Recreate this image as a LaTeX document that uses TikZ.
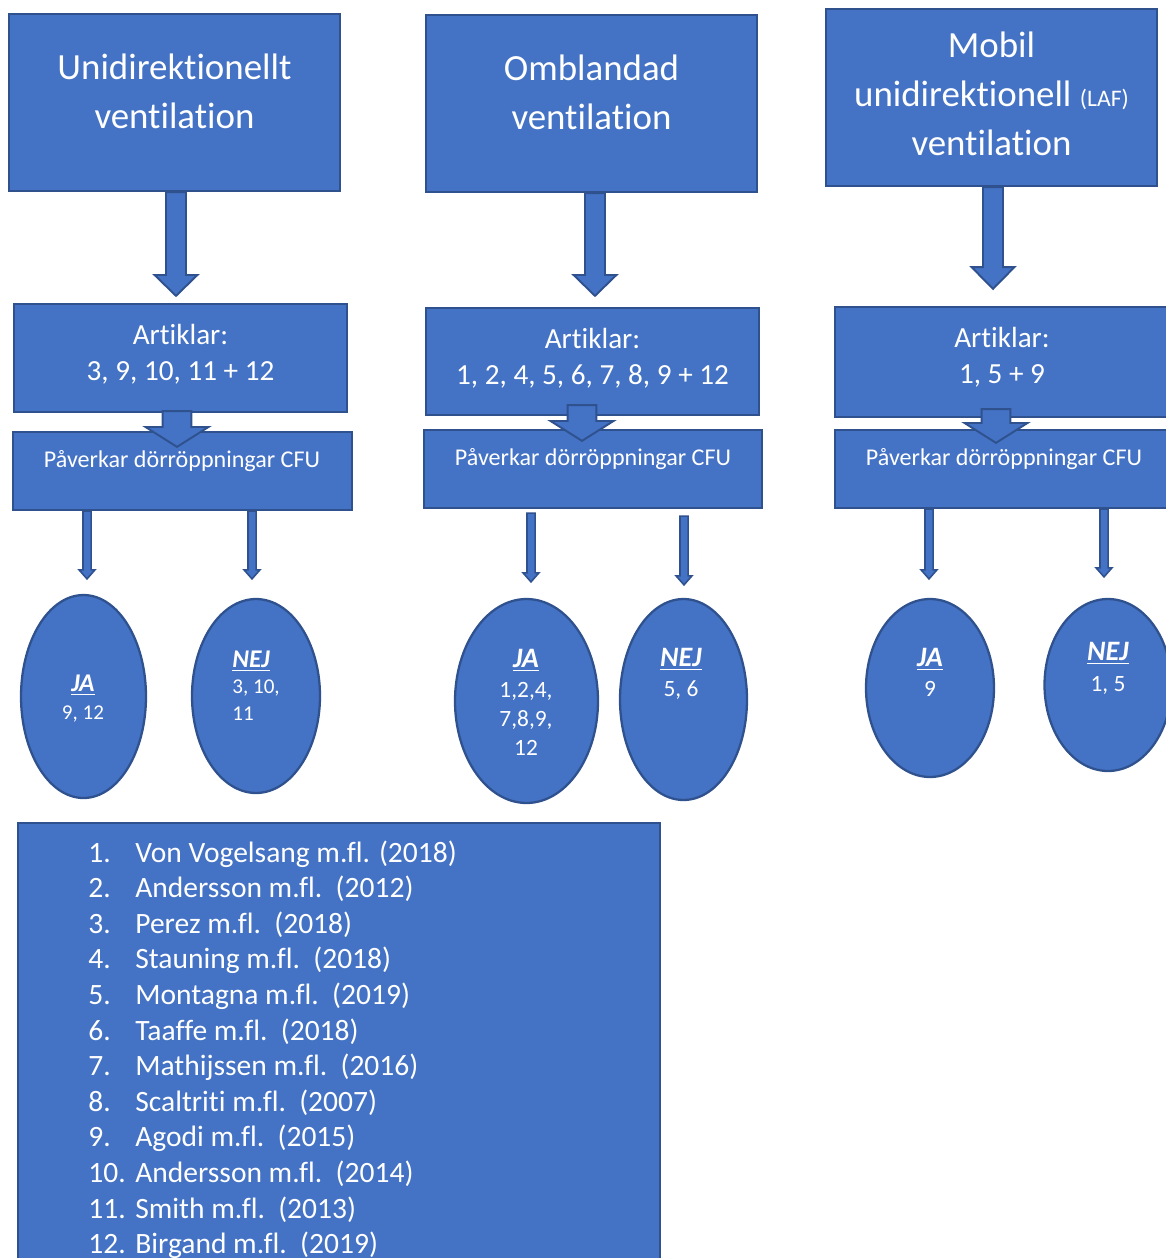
\documentclass[tikz,border=0pt]{standalone}
\usepackage{fontspec}
\setmainfont{Carlito}[Ligatures=NoCommon]
\usetikzlibrary{calc,shapes.geometric}
\definecolor{boxblue}{HTML}{4472C4}
\definecolor{edgeblue}{HTML}{2F528F}
\newcommand{\hdfont}{\fontsize{21}{28}\selectfont}
\newcommand{\artfont}{\fontsize{16.6}{20.5}\selectfont}
\newcommand{\pfont}{\fontsize{13.7}{16}\selectfont}
\newcommand{\reffont}{\fontsize{16.8}{20}\selectfont}
\newcommand{\hdr}[2]{{\fontsize{#1}{#1}\selectfont\underline{\textbf{\textit{#2}}}}}
% block arrow: [style] from, to, half shaft, half head, head length
\newcommand{\blockarr}[6][]{%
  \path[arr,#1] let \p1=(#2), \p2=(#3) in
    (\x1-#4,\y1) -- (\x1-#4,\y2+#6) -- (\x1-#5,\y2+#6) -- (\x1,\y2)
    -- (\x1+#5,\y2+#6) -- (\x1+#4,\y2+#6) -- (\x1+#4,\y1) -- cycle;}
\tikzset{
  box/.style={draw=edgeblue,fill=boxblue,line width=1.3pt,inner sep=0pt},
  oval/.style={ellipse,draw=edgeblue,fill=boxblue,line width=1.3pt,inner sep=0pt},
  txt/.style={text=white,align=center,inner sep=0pt},
  arr/.style={draw=edgeblue,fill=boxblue,line width=1.1pt,line join=miter},
  thin/.style={line width=0.9pt}
}
\begin{document}
\begin{tikzpicture}[x=0.02cm,y=-0.02cm]
\useasboundingbox (0,0) rectangle (1166,1258);
% ventilation types
\node[box,minimum width=6.62cm,minimum height=3.54cm] (t1) at (174.5,102.5) {};
\node[box,minimum width=6.62cm,minimum height=3.54cm] (t2) at (591.5,103.5) {};
\node[box,minimum width=6.62cm,minimum height=3.54cm] (t3) at (991.5,97.5) {};
\node[txt,font=\hdfont] (t1l) at (174.5,91) {Unidirektionellt\\ventilation};
\node[txt,font=\hdfont] (t2l) at (591.5,92) {Omblandad\\ventilation};
\node[txt,font=\hdfont] (t3l) at (991.5,94) {Mobil\\unidirektionell {\fontsize{13.5}{14}\selectfont (LAF)}\\ventilation};

% articles
\node[box,minimum width=6.66cm,minimum height=2.16cm] (a1) at (180.5,358) {};
\node[box,minimum width=6.66cm,minimum height=2.14cm] (a2) at (592.5,361.5) {};
\node[box,minimum width=6.66cm,minimum height=2.2cm] (a3) at (1001.5,362) {};
\node[txt,font=\artfont] (a1l) at (180.5,354) {Artiklar:\\3, 9, 10, 11 + 12};
\node[txt,font=\artfont] (a2l) at (592.5,358) {Artiklar:\\1, 2, 4, 5, 6, 7, 8, 9 + 12};
\node[txt,font=\artfont] (a3l) at (1002,357) {Artiklar:\\1, 5 + 9};

\blockarr{$(t1.south)+(1.5,0)$}{$(a1.north)+(0,-7)$}{5.7pt}{12.2pt}{11.9pt}
\blockarr{$(t2.south)+(3.5,0)$}{$(a2.north)+(0,-11)$}{5.7pt}{12.2pt}{11.9pt}
\blockarr{$(t3.south)+(1.5,0)$}{$(a3.north)+(0,-17)$}{5.7pt}{12.2pt}{12.4pt}

% door openings
\node[box,minimum width=6.78cm,minimum height=1.56cm] (p1) at (182.5,471) {};
\node[box,minimum width=6.76cm,minimum height=1.56cm] (p2) at (593,469) {};
\node[box,minimum width=6.76cm,minimum height=1.56cm] (p3) at (1004,469) {};
\node[txt,font=\pfont] (p1l) at (182,461) {Påverkar dörröppningar CFU};
\node[txt,font=\pfont] (p2l) at (593,459) {Påverkar dörröppningar CFU};
\node[txt,font=\pfont] (p3l) at (1004,459) {Påverkar dörröppningar CFU};

\blockarr{$(a1.south)+(-3.5,-2)$}{$(p1.north)+(0,16)$}{8.2pt}{17.9pt}{11.3pt}
\blockarr{$(a2.south)+(-10.5,-11)$}{$(p2.north)+(0,12)$}{8.2pt}{17.9pt}{11.3pt}
\blockarr{$(a3.south)+(-5.5,-9)$}{$(p3.north)+(0,14)$}{8.2pt}{17.9pt}{11.3pt}

% yes / no
\node[oval,minimum width=2.5cm,minimum height=4.06cm] (e1) at (83.5,696.5) {};
\node[oval,minimum width=2.56cm,minimum height=3.88cm] (e2) at (256,696) {};
\node[oval,minimum width=2.86cm,minimum height=4.08cm] (e3) at (526.5,701) {};
\node[oval,minimum width=2.54cm,minimum height=4.02cm] (e4) at (683.5,699.5) {};
\node[oval,minimum width=2.56cm,minimum height=3.56cm] (e5) at (930,688) {};
\node[oval,minimum width=2.54cm,minimum height=3.44cm] (e6) at (1108,685) {};

\blockarr[thin]{$(e1.north |- p1.south)+(3.5,0)$}{$(e1.north)+(0,-15)$}{2.3pt}{4.5pt}{5.1pt}
\blockarr[thin]{$(e2.north |- p1.south)+(-4,0)$}{$(e2.north)+(0,-19)$}{2.3pt}{4.5pt}{5.1pt}
\blockarr[thin]{$(e3.north |- p2.south)+(4.5,4)$}{$(e3.north)+(0,-16)$}{2.3pt}{4.5pt}{5.1pt}
\blockarr[thin]{$(e4.north |- p2.south)+(0.5,7)$}{$(e4.north)+(0,-13)$}{2.3pt}{4.5pt}{5.1pt}
\blockarr[thin]{$(e5.north |- p3.south)+(-1,0)$}{$(e5.north)+(0,-19)$}{2.3pt}{4.5pt}{5.1pt}
\blockarr[thin]{$(e6.north |- p3.south)+(-4,0)$}{$(e6.north)+(0,-21)$}{2.3pt}{4.5pt}{5.1pt}

\node[txt,font=\fontsize{12}{16}\selectfont] (e1l) at (83,699) {\hdr{14.5}{JA}\\9, 12};
\node[txt,align=left,anchor=west,font=\fontsize{12}{15}\selectfont] (e2l) at (232,685.5) {\hdr{14.5}{NEJ}\\3, 10,\\11};
\node[txt,font=\fontsize{13.3}{16.6}\selectfont] (e3l) at (526,702.5) {\hdr{16}{JA}\\1,2,4,\\7,8,9,\\12};
\node[txt,font=\fontsize{13.3}{17}\selectfont] (e4l) at (681,673.5) {\hdr{16}{NEJ}\\5, 6};
\node[txt,font=\fontsize{13.3}{17.5}\selectfont] (e5l) at (930,672.5) {\hdr{16}{JA}\\9};
\node[txt,font=\fontsize{13.3}{17.5}\selectfont] (e6l) at (1108,668.5) {\hdr{16}{NEJ}\\1, 5};

% reference list
\node[box,minimum width=12.84cm,minimum height=9.3cm,anchor=north west] (refs) at (17,822) {};
\foreach \t [count=\i] in {Von Vogelsang m.fl. (2018), Andersson m.fl.\ \ (2012),
  Perez m.fl.\ \ (2018), Stauning m.fl.\ \ (2018), Montagna m.fl.\ \ (2019),
  Taaffe m.fl.\ \ (2018), Mathijssen m.fl.\ \ (2016), Scaltriti m.fl.\ \ (2007),
  Agodi m.fl.\ \ (2015), Andersson m.fl.\ \ (2014), Smith m.fl.\ \ (2013),
  Birgand m.fl.\ \ (2019)}{
  \node[txt,font=\reffont,anchor=base west] (n\i) at (88,{826.4+35.6*\i}) {\i.};
  \node[txt,font=\reffont,anchor=base west] (r\i) at (135,{826.4+35.6*\i}) {\t};
}
\end{tikzpicture}
\end{document}
